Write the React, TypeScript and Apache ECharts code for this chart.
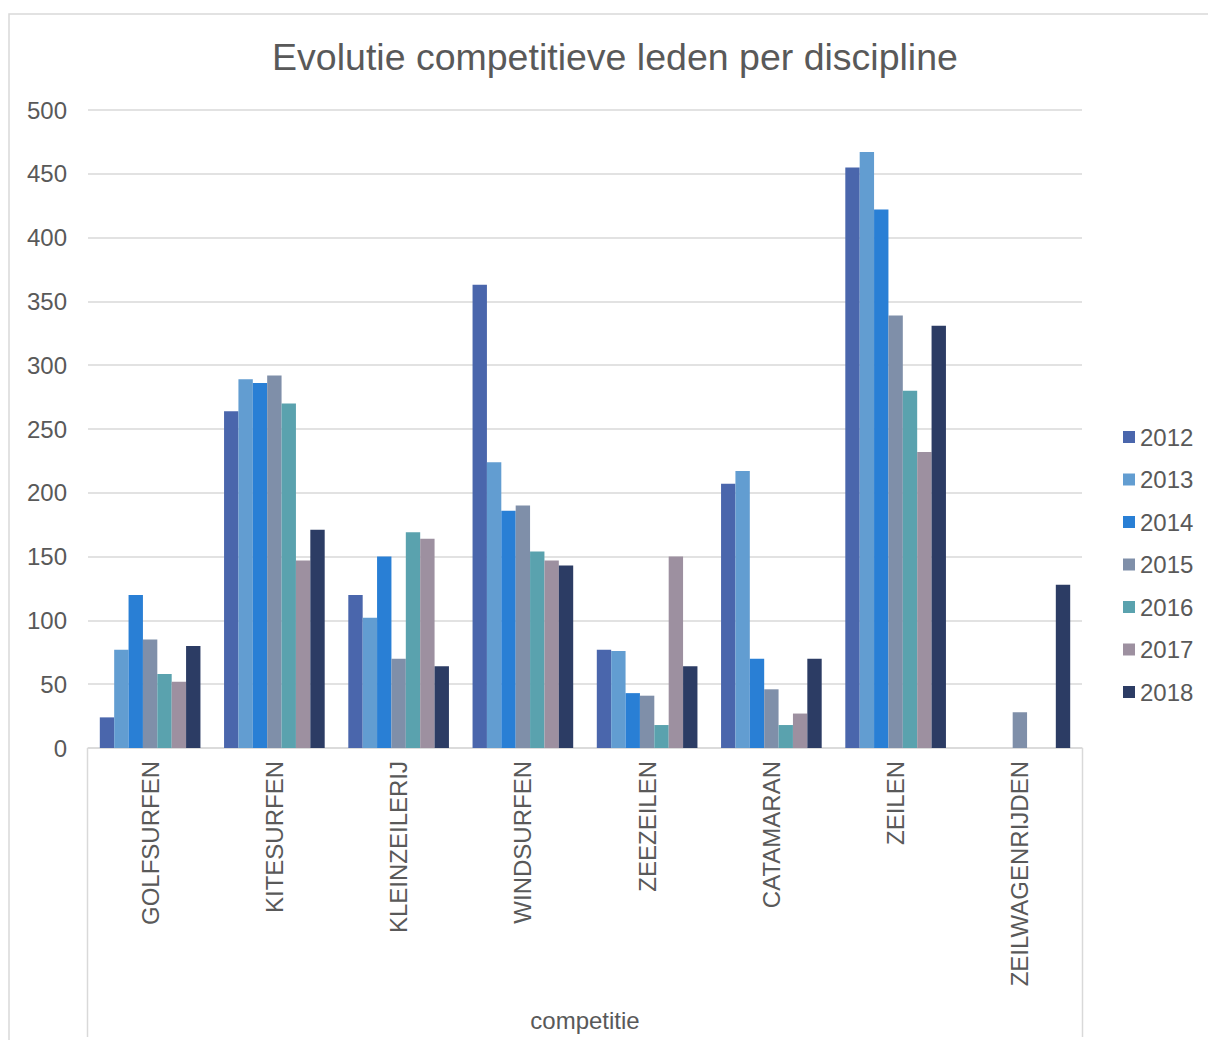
import React, { useEffect, useRef } from "react";
import * as echarts from "echarts";

const categories = [
  "GOLFSURFEN",
  "KITESURFEN",
  "KLEINZEILERIJ",
  "WINDSURFEN",
  "ZEEZEILEN",
  "CATAMARAN",
  "ZEILEN",
  "ZEILWAGENRIJDEN",
];

const years = ["2012", "2013", "2014", "2015", "2016", "2017", "2018"];

const v2012 = [24, 264, 120, 363, 77, 207, 455, null];
const v2013 = [77, 289, 102, 224, 76, 217, 467, null];
const v2014 = [120, 286, 150, 186, 43, 70, 422, null];
const v2015 = [85, 292, 70, 190, 41, 46, 339, 28];
const v2016 = [58, 270, 169, 154, 18, 18, 280, null];
const v2017 = [52, 147, 164, 147, 150, 27, 232, null];
const v2018 = [80, 171, 64, 143, 64, 70, 331, 128];

const seriesValues = [v2012, v2013, v2014, v2015, v2016, v2017, v2018];

const colors = ["#4a66ac", "#629dd1", "#297fd5", "#7f8fa9", "#5aa2ae", "#9d90a0", "#2c3c64"];

const yTicks = { min: 0, max: 500, interval: 50 };

const FONT = "'Liberation Sans', Arial, sans-serif";
const TXT = "#595959";
const LINE = "#d9d9d9";
const FS = 24;

export default function App() {
  const ref = useRef<HTMLDivElement>(null);

  useEffect(() => {
    if (!ref.current) return;
    const chart = echarts.init(ref.current, null, { renderer: "svg" });
    const gridLeft = 88;
    const gridRight = 1082;
    const gridTop = 110;
    const gridBottom = 748;
    chart.setOption({
      animation: false,
      backgroundColor: "#ffffff",
      textStyle: { fontFamily: FONT },
      color: colors,
      graphic: [
        {
          type: "polyline",
          shape: { points: [[9, 1045], [9, 14], [1215, 14]] },
          style: { stroke: LINE, lineWidth: 1.5, fill: "none" },
          silent: true,
        },
        {
          type: "polyline",
          shape: { points: [[gridLeft - 0.5, gridBottom], [gridLeft - 0.5, 1037]] },
          style: { stroke: LINE, lineWidth: 1.5, fill: "none" },
          silent: true,
        },
        {
          type: "polyline",
          shape: { points: [[gridRight + 0.5, gridBottom], [gridRight + 0.5, 1037]] },
          style: { stroke: LINE, lineWidth: 1.5, fill: "none" },
          silent: true,
        },
        {
          type: "text",
          x: 615,
          y: 57,
          style: {
            text: "Evolutie competitieve leden per discipline",
            font: `37.5px ${FONT}`,
            fill: TXT,
            align: "center",
            verticalAlign: "middle",
          },
        },
      ],
      legend: {
        orient: "vertical",
        left: 1118,
        top: 420,
        itemWidth: 12,
        itemHeight: 12,
        itemGap: 18.5,
        icon: "rect",
        data: years,
        textStyle: { color: TXT, fontSize: FS, fontFamily: FONT, lineHeight: 24 },
      },
      grid: {
        left: gridLeft,
        right: 1208 - gridRight,
        top: gridTop,
        bottom: 1040 - gridBottom,
        containLabel: false,
      },
      xAxis: {
        type: "category",
        data: categories,
        name: "competitie",
        nameLocation: "middle",
        nameGap: 260,
        nameTextStyle: { color: TXT, fontSize: FS, fontFamily: FONT },
        axisLine: { show: true, lineStyle: { color: LINE, width: 1.5 } },
        axisTick: { show: false },
        axisLabel: {
          rotate: 90,
          margin: 13,
          color: TXT,
          fontSize: FS,
          fontFamily: FONT,
          interval: 0,
        },
      },
      yAxis: {
        type: "value",
        min: yTicks.min,
        max: yTicks.max,
        interval: yTicks.interval,
        axisLine: { show: false },
        axisTick: { show: false },
        axisLabel: { color: TXT, fontSize: FS, fontFamily: FONT, margin: 21 },
        splitLine: { lineStyle: { color: LINE, width: 1.5 } },
      },
      series: years.map((y, i) => ({
        name: y,
        type: "bar",
        data: seriesValues[i],
        barGap: "0%",
        barCategoryGap: "19%",
        itemStyle: { color: colors[i] },
      })),
    });
    return () => chart.dispose();
  }, []);

  return (
    <div
      ref={ref}
      style={{ position: "fixed", left: 0, top: 0, width: 1208, height: 1040 }}
    />
  );
}
